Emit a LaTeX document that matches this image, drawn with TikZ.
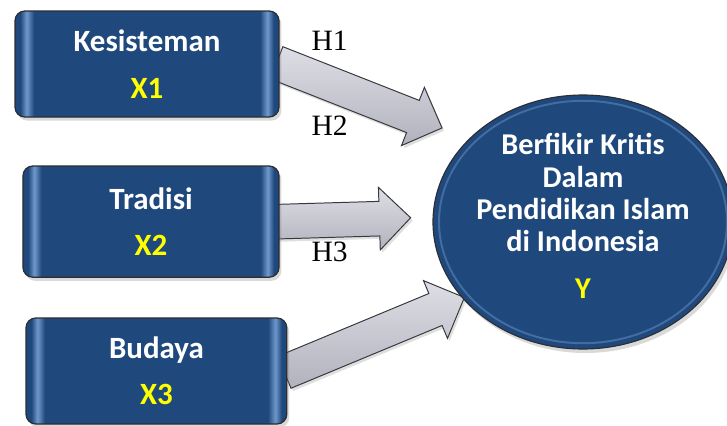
\documentclass[tikz,border=0pt]{standalone}
\usepackage{fontspec}
\setmainfont{Liberation Serif}
\newfontfamily\boxfont{Carlito}
\usetikzlibrary{shapes.geometric,shapes.arrows,calc,shadows,backgrounds}
\definecolor{boxblue}{RGB}{31,73,125}
\definecolor{boxrim}{RGB}{112,152,205}
\definecolor{boxline}{RGB}{45,45,50}
\definecolor{arrowtop}{RGB}{222,222,230}
\definecolor{arrowbot}{RGB}{178,178,190}
\definecolor{arrowline}{RGB}{55,55,60}
\definecolor{varyellow}{RGB}{255,255,0}
\pgfdeclarehorizontalshading{boxshade}{100bp}{color(0bp)=(boxblue); color(26.0bp)=(boxblue);
  color(27.2bp)=(boxrim); color(28.6bp)=(boxblue); color(71.4bp)=(boxblue);
  color(72.8bp)=(boxrim); color(74.0bp)=(boxblue); color(100bp)=(boxblue)}

\begin{document}
\begin{tikzpicture}[
    varbox/.style={rectangle, rounded corners=7pt, draw=boxline, line width=0.9pt,
      shade, shading=boxshade, minimum width=6.5cm, minimum height=2.7cm,
      align=center, text=white, font=\boxfont\bfseries\fontsize{22}{33}\selectfont,
      drop shadow={opacity=0.3, shadow xshift=0.6mm, shadow yshift=-0.9mm}},
    resultbox/.style={ellipse, draw=boxline, line width=0.8pt, fill=boxblue,
      minimum width=7.5cm, minimum height=6.35cm, inner sep=0pt,
      drop shadow={opacity=0.3, shadow xshift=0.6mm, shadow yshift=-1mm}},
    circtext/.style={align=center, text=white, font=\boxfont\bfseries\fontsize{21.5}{23}\selectfont},
    hyparrow/.style={single arrow, draw=arrowline, line width=0.7pt,
      top color=arrowtop, bottom color=arrowbot, inner xsep=0pt, inner ysep=0.42cm,
      minimum width=1.54cm, single arrow head extend=0.35cm,
      drop shadow={opacity=0.25, shadow xshift=0.5mm, shadow yshift=-0.7mm}},
    hyplabel/.style={font=\fontsize{21}{25}\selectfont}
  ]
  \useasboundingbox (0,0) rectangle (18.175,-10.65);

  % independent variables
  \node[varbox, minimum width=6.6cm, minimum height=2.65cm] (kes) at (3.675,-1.6)
    {Kesisteman\\\textcolor{varyellow}{X1}};
  \node[varbox, minimum width=6.4cm, minimum height=2.78cm] (trad) at (3.775,-5.54)
    {Tradisi\\\textcolor{varyellow}{X2}};
  \node[varbox, minimum width=6.52cm, minimum height=2.65cm] (bud) at (3.91,-9.275)
    {Budaya\\\textcolor{varyellow}{X3}};

  % dependent variable
  \node[resultbox] (berfikir) at (14.575,-5.55) {};
  \node[circtext] (berfikirtext) at ($(berfikir.center)+(0,0.15)$)
    {Berfikir Kritis\\Dalam\\Pendidikan Islam\\di Indonesia\\[10pt]\textcolor{varyellow}{Y}};
  \draw[boxrim, line width=1.4pt, opacity=0.45]
    (berfikir.center) ellipse (3.6cm and 3.03cm);

  % arrow tips stop short of the circle
  \coordinate (tipa) at (10.85,-3.12);
  \coordinate (tipb) at (10.05,-5.45);
  \coordinate (tipc) at (11.41,-7.52);

  \begin{scope}[on background layer]
    \foreach \src/\dst in {kes/tipa, trad/tipb, bud/tipc}
      \path let \p1=($(\src.east)!-0.3cm!(\dst)$), \p2=(\dst),
          \n1={atan2(\y2-\y1,\x2-\x1)}, \n2={veclen(\x2-\x1,\y2-\y1)} in
        node[hyparrow, rotate=\n1, minimum height=\n2] at ($(\p1)!0.5!(\p2)$) {};
  \end{scope}

  % hypothesis labels
  \node[hyplabel] (hone) at (8.24,-1.03) {H1};
  \node[hyplabel] (htwo) at (8.24,-3.15) {H2};
  \node[hyplabel] (hthree) at (8.24,-6.3) {H3};
\end{tikzpicture}
\end{document}
